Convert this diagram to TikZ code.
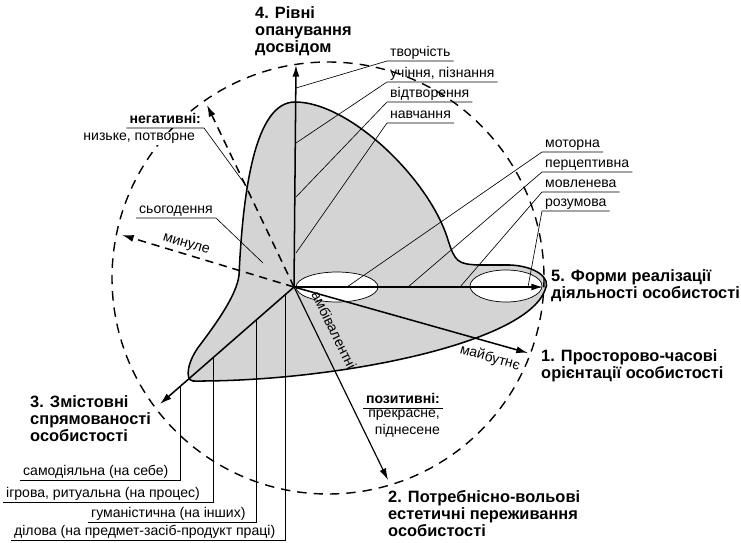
\documentclass[tikz,border=0pt]{standalone}
\usepackage{fontspec}
\setmainfont{Liberation Sans}
\usetikzlibrary{arrows.meta,calc}

\newcommand\tagfont{\fontsize{12}{14}\selectfont}
\newcommand\headfont{\fontsize{14}{14.5}\selectfont\bfseries}

\tikzset{
  axisline/.style={line width=1.3pt,-{Latex[length=10pt,width=6pt]}},
  timeline/.style={axisline,dash pattern=on 7pt off 5pt},
  orbit/.style={line width=1.2pt,dash pattern=on 8pt off 6pt},
  leader/.style={line width=0.55pt},
  tag/.style={font=\tagfont,inner xsep=2.5pt,inner ysep=1pt,text depth=0.25em},
  head/.style={font=\headfont,align=left,inner sep=0pt},
}

\begin{document}
\begin{tikzpicture}[x=0.03cm,y=-0.03cm]
\useasboundingbox (0,0) rectangle (741,543);

\pgfmathsetmacro{\rad}{216}
\coordinate (O) at (294,287);
\coordinate (C) at (328,278);

\coordinate (e1) at (528,353);
\coordinate (e2) at (388,480);
\coordinate (e3) at (160,404);
\coordinate (e4) at (296,65);
\coordinate (e5) at (543,287);
\coordinate (past) at (122,235);
\coordinate (nega) at (207,105);

\filldraw[fill=black!17,line width=1.3pt] (295,102) .. controls (350,102) and (430,180) .. (448,240)
  .. controls (455,262) and (458,264) .. (478,265) -- (510,265)
  .. controls (535,266) and (552,278) .. (545,290)
  .. controls (525,345) and (330,382) .. (193,381)
  .. controls (184,380) and (188,360) .. (200,345)
  .. controls (215,325) and (237,295) .. (239,275)
  .. controls (243,190) and (255,102) .. (295,102) -- cycle;
\draw[fill=white,line width=0.6pt] (337,287) ellipse [x radius=41,y radius=15];
\draw[fill=white,line width=0.6pt] (506,286) ellipse [x radius=36,y radius=16];
\draw[orbit] (C) circle [radius=\rad];

\coordinate (k1) at (296,88);\coordinate (k2) at (296,143);\coordinate (k3) at (296,197);\coordinate (k4) at (296,253);
\node[tag,anchor=south west] (tvor) at (387,61) {творчість};
\node[tag,anchor=south west] (uchin) at (387,82) {учіння, пізнання};
\node[tag,anchor=south west] (vidtv) at (387,102) {відтворення};
\node[tag,anchor=south west] (navch) at (387,123) {навчання};
\draw[leader] (tvor.south east) -- (tvor.south west) -- (k1);
\draw[leader] (uchin.south east) -- (uchin.south west) -- (k2);
\draw[leader] (vidtv.south east) -- (vidtv.south west) -- (k3);
\draw[leader] (navch.south east) -- (navch.south west) -- (k4);

\coordinate (f1) at (347,287);\coordinate (f2) at (408,287);\coordinate (f3) at (460,287);\coordinate (f4) at (528,287);
\node[tag,anchor=south west] (motor) at (542,152) {моторна};
\node[tag,anchor=south west] (percep) at (542,172) {перцептивна};
\node[tag,anchor=south west] (movl) at (542,192) {мовленева};
\node[tag,anchor=south west] (rozum) at (542,211) {розумова};
\draw[leader] (motor.south east) -- (motor.south west) -- (f1);
\draw[leader] (percep.south east) -- (percep.south west) -- (f2);
\draw[leader] (movl.south east) -- (movl.south west) -- (f3);
\draw[leader] (rozum.south east) -- (rozum.south west) -- (f4);

\coordinate (g1) at (180,387);\coordinate (g2) at (213,358);\coordinate (g3) at (256,320);\coordinate (g4) at (285,295);
\node[tag,anchor=south west] (samod) at (20,480) {самодіяльна (на себе)};
\node[tag,anchor=south west] (igrov) at (3,502) {ігрова, ритуальна (на процес)};
\node[tag,anchor=south west] (human) at (88,522) {гуманістична (на інших)};
\node[tag,anchor=south west] (dilov) at (11,540) {ділова (на предмет-засіб-продукт праці)};
\draw[leader] (samod.south west) -- (samod.south west -| g1) -- (g1);
\draw[leader] (igrov.south west) -- (igrov.south west -| g2) -- (g2);
\draw[leader] (human.south west) -- (human.south west -| g3) -- (g3);
\draw[leader] (dilov.south west) -- (dilov.south west -| g4) -- (g4);

\coordinate (n1) at (247,187);\coordinate (s1) at (263,263);
\node[tag,anchor=south east,fill=white] (neg) at (204,128) {\bfseries негативні:};
\node[tag,anchor=base east,fill=white] (negx) at (198,141) {низьке, потворне};
\node[tag,anchor=south west] (today) at (136,218) {сьогодення};
\draw[leader] (neg.south west) -- (neg.south east) -- (n1);
\draw[leader] (today.south west) -- (today.south east) -- (s1);

\node[tag,anchor=south east] (pos) at (443,408) {\bfseries позитивні:};
\node[tag,anchor=north east,align=right] (posx) at (443,409) {прекрасне,\\піднесене};
\draw[leader] (pos.south west) -- (pos.south east);

\draw[axisline] (O) -- (e4);
\draw[axisline] (O) -- (e5);
\draw[axisline] (O) -- (e1);
\draw[axisline] (O) -- (e3);
\draw[line width=1pt,-{Latex[length=10pt,width=6pt]}] (O) -- (e2);
\draw[timeline] (O) -- (past);
\draw[timeline] (O) -- (nega);

\node[tag,rotate=-17] (minule) at (186,245) {минуле};
\node[tag,rotate=-16] (maib) at (490,358) {майбутнє};
\node[tag,rotate=-64] (ambiv) at (333,331) {амбівалентні};

\node[head,anchor=north west] (h4) at (255,6) {4. Рівні\\опанування\\досвідом};
\node[head,anchor=north west] (h5) at (551,269) {5. Форми реалізації\\діяльності особистості};
\node[head,anchor=north west] (h1) at (541,349) {1. Просторово-часові\\орієнтації особистості};
\node[head,anchor=north west] (h2) at (388,490) {2. Потребнісно-вольові\\естетичні переживання\\особистості};
\node[head,anchor=north west] (h3) at (30,395) {3. Змістовні\\спрямованості\\особистості};
\end{tikzpicture}
\end{document}
